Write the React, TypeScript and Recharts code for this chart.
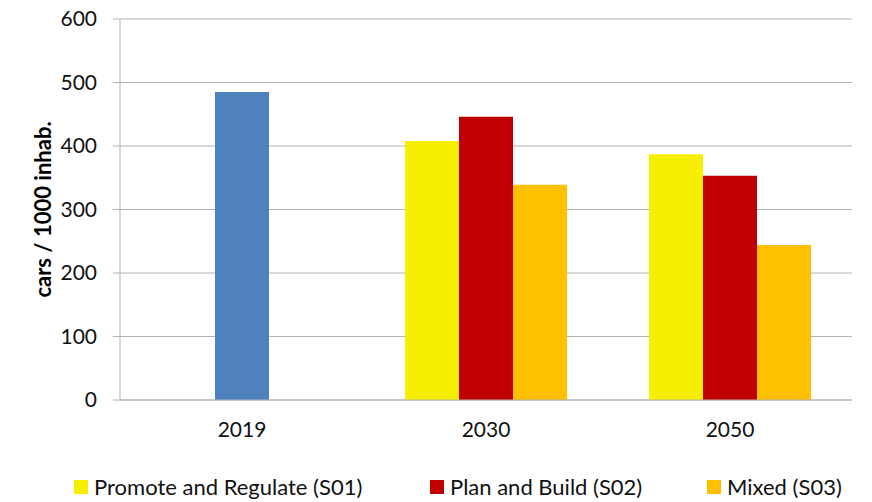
import React from 'react';
import { BarChart, Bar, XAxis, YAxis, CartesianGrid } from 'recharts';

const years = ['2019', '2030', '2050'];
const base2019 = [485, null, null];
const promoteRegulate = [null, 408, 387];
const planBuild = [null, 446, 353];
const mixed = [null, 339, 244];
const yTicks = [0, 100, 200, 300, 400, 500, 600];

const legendItems = [
  { label: 'Promote and Regulate (S01)', color: '#F7EF00', left: 74 },
  { label: 'Plan and Build (S02)', color: '#C00000', left: 430 },
  { label: 'Mixed (S03)', color: '#FFC000', left: 707 },
];

const data = years.map((year, i) => ({
  year,
  base: base2019[i],
  s01: promoteRegulate[i],
  s02: planBuild[i],
  s03: mixed[i],
}));

const FONT = 'Lato, "Open Sans", sans-serif';

export default function App() {
  return (
    <div style={{ position: 'absolute', left: 0, top: 0, width: 872, height: 502, background: '#fff', fontFamily: FONT }}>
      <BarChart
        width={872}
        height={502}
        data={data}
        margin={{ top: 19, right: 20, left: 0, bottom: 72 }}
        barCategoryGap={41}
        barGap={0}
      >
        <CartesianGrid vertical={false} stroke="#b3b3b3" strokeWidth={1} />
        <XAxis
          dataKey="year"
          axisLine={{ stroke: '#b3b3b3' }}
          tickLine={false}
          tickSize={0}
          tickMargin={22}
          tick={{ fill: '#111', fontSize: 21, fontFamily: FONT }}
        />
        <YAxis
          width={120}
          domain={[0, 600]}
          ticks={yTicks}
          axisLine={{ stroke: '#b3b3b3' }}
          tickLine={{ stroke: '#b3b3b3' }}
          tickSize={7}
          tickMargin={16}
          tick={{ fill: '#111', fontSize: 21, fontFamily: FONT }}
          label={{
            value: 'cars / 1000 inhab.',
            angle: -90,
            position: 'insideLeft',
            dx: 38,
            style: { textAnchor: 'middle', fontWeight: 'bold', fontSize: 22, fill: '#000', fontFamily: FONT },
          }}
        />
        <Bar dataKey="s01" stackId="left" fill="#F7EF00" isAnimationActive={false} />
        <Bar dataKey="base" stackId="mid" fill="#4F81BD" isAnimationActive={false} />
        <Bar dataKey="s02" stackId="mid" fill="#C00000" isAnimationActive={false} />
        <Bar dataKey="s03" stackId="right" fill="#FFC000" isAnimationActive={false} />
      </BarChart>
      {legendItems.map((item) => (
        <div
          key={item.label}
          style={{ position: 'absolute', left: item.left, top: 473, display: 'flex', alignItems: 'center', fontSize: 22, color: '#111', whiteSpace: 'nowrap' }}
        >
          <span style={{ width: 14, height: 14, background: item.color, marginRight: 6, display: 'inline-block' }} />
          {item.label}
        </div>
      ))}
    </div>
  );
}
